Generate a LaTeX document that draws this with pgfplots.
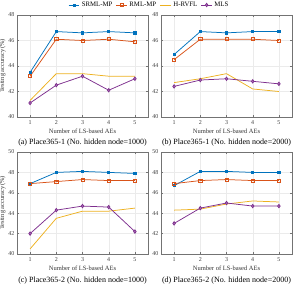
\documentclass[border=0pt]{standalone}
\usepackage{fontspec}
\setmainfont{Liberation Serif}
\usepackage{pgfplots}
\pgfplotsset{compat=1.18}
\definecolor{cb}{RGB}{0,114,189}
\definecolor{co}{RGB}{217,83,25}
\definecolor{cy}{RGB}{237,177,32}
\definecolor{cp}{RGB}{126,47,142}
\tikzset{capt/.style={font=\fontsize{8}{9}\selectfont}}
\pgfplotsset{
  myax/.style={
    scale only axis, width=131pt, height=102pt, clip=false,
    xmin=0.5, xmax=5.5, xtick={1,2,3,4,5},
    ymin=40,
    tick align=inside,
    grid=major, major grid style={black!8, line width=0.3pt},
    axis line style={black!55, line width=0.4pt},
    every tick/.style={black!55, line width=0.3pt},
    major tick length=2pt,
    tick label style={font=\fontsize{6}{7}\selectfont, text=black!75},
    yticklabel style={xshift=1pt},
    /pgf/number format/assume math mode=true,
    xlabel={Number of LS-based AEs},
    xlabel style={font=\fontsize{6.5}{7.5}\selectfont, yshift=3pt, text=black!80},
    ylabel style={font=\fontsize{6.5}{7.5}\selectfont, yshift=-4pt, text=black!80},
    legend image code/.code={\draw[mark repeat=2,mark phase=2] plot coordinates {(0cm,0cm) (0.19cm,0cm) (0.38cm,0cm)};},
  },
  sA/.style={color=cb, line width=0.75pt, mark=square*, mark size=1.1pt},
  sB/.style={color=co, line width=0.75pt, mark=square, mark size=1.6pt, mark options={fill=co!30}},
  sC/.style={color=cy, line width=0.75pt, mark=none},
  sD/.style={color=cp, line width=0.75pt, mark=diamond*, mark size=1.7pt, mark options={fill=cp!60}},
}
\begin{document}
\begin{tikzpicture}
\useasboundingbox (0,0) rectangle (299pt,293pt);
% (a)
\begin{axis}[myax, at={(17pt,176pt)}, anchor=south west, ymax=48, ytick={40,42,...,48},
  ylabel={Testing accuracy(\%)},
  legend columns=4,
  legend style={at={(1.01,1.098)}, anchor=center, draw=none, fill=none,
    font=\fontsize{6.8}{8}\selectfont, inner sep=0pt,
    /tikz/every odd column/.append style={column sep=0pt},
    /tikz/every even column/.append style={column sep=1.5pt}},
  legend cell align=left]
\addplot[sA] coordinates {(1,43.5) (2,46.7) (3,46.6) (4,46.7) (5,46.6)};
\addplot[sB] coordinates {(1,43.2) (2,46.1) (3,46.0) (4,46.1) (5,45.9)};
\addplot[sC] coordinates {(1,41.3) (2,43.4) (3,43.4) (4,43.2) (5,43.2)};
\addplot[sD] coordinates {(1,41.1) (2,42.5) (3,43.2) (4,42.1) (5,43.0)};
\legend{SRML-MP,RML-MP,H-RVFL,MLS}
\node[capt] at (rel axis cs:0.5,0) [yshift=-26pt] {(a) Place365-1 (No. hidden node=1000)};
\end{axis}
% (b)
\begin{axis}[myax, at={(161pt,176pt)}, anchor=south west, ymax=48, ytick={40,42,...,48}]
\addplot[sA] coordinates {(1,44.9) (2,46.7) (3,46.6) (4,46.7) (5,46.7)};
\addplot[sB] coordinates {(1,44.5) (2,46.1) (3,46.1) (4,46.1) (5,46.0)};
\addplot[sC] coordinates {(1,42.7) (2,43.0) (3,43.4) (4,42.2) (5,42.0)};
\addplot[sD] coordinates {(1,42.4) (2,42.9) (3,43.0) (4,42.8) (5,42.6)};
\node[capt] at (rel axis cs:0.5,0) [yshift=-26pt] {(b) Place365-1 (No. hidden node=2000)};
\end{axis}
% (c)
\begin{axis}[myax, at={(17pt,39pt)}, anchor=south west, ymax=50, ytick={40,42,...,50},
  ylabel={Testing accuracy(\%)}]
\addplot[sA] coordinates {(1,46.9) (2,48.0) (3,48.1) (4,48.0) (5,47.9)};
\addplot[sB] coordinates {(1,46.9) (2,47.1) (3,47.3) (4,47.2) (5,47.2)};
\addplot[sC] coordinates {(1,40.5) (2,43.5) (3,44.2) (4,44.2) (5,44.5)};
\addplot[sD] coordinates {(1,42.0) (2,44.3) (3,44.7) (4,44.6) (5,42.2)};
\node[capt] at (rel axis cs:0.5,0) [yshift=-27pt] {(c) Place365-2 (No. hidden node=1000)};
\end{axis}
% (d)
\begin{axis}[myax, at={(161pt,39pt)}, anchor=south west, ymax=50, ytick={40,42,...,50}]
\addplot[sA] coordinates {(1,46.7) (2,48.1) (3,48.1) (4,48.0) (5,48.0)};
\addplot[sB] coordinates {(1,46.9) (2,47.2) (3,47.3) (4,47.2) (5,47.2)};
\addplot[sC] coordinates {(1,44.3) (2,44.4) (3,44.9) (4,45.2) (5,45.1)};
\addplot[sD] coordinates {(1,43.0) (2,44.5) (3,45.0) (4,44.7) (5,44.7)};
\node[capt] at (rel axis cs:0.5,0) [yshift=-27pt] {(d) Place365-2 (No. hidden node=2000)};
\end{axis}
\end{tikzpicture}
\end{document}
